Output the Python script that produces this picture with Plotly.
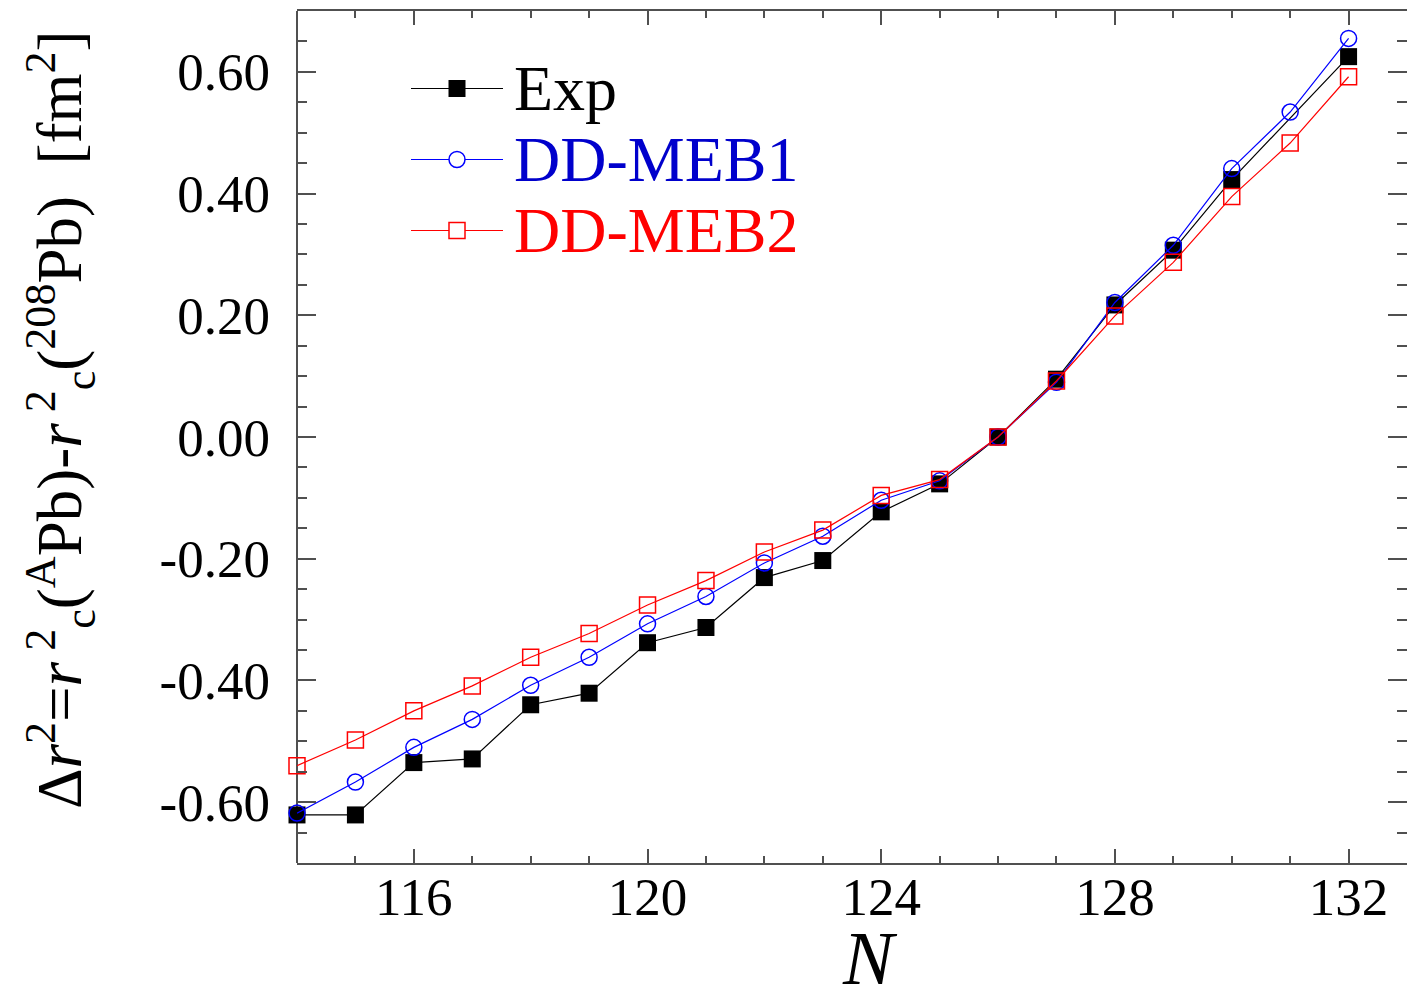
import plotly.graph_objects as go

# ---------------- data ----------------
N_exp = [114, 115, 116, 117, 118, 119, 120, 121, 122, 123, 124, 125, 126, 127, 128, 129, 130, 132]
exp_vals = [-0.621, -0.621, -0.535, -0.529, -0.440, -0.421, -0.338, -0.313, -0.231, -0.203,
            -0.123, -0.077, 0.000, 0.095, 0.217, 0.307, 0.423, 0.625]

N_th = [114, 115, 116, 117, 118, 119, 120, 121, 122, 123, 124, 125, 126, 127, 128, 129, 130, 131, 132]
meb1_vals = [-0.618, -0.567, -0.510, -0.464, -0.408, -0.362, -0.307, -0.262, -0.207, -0.163,
             -0.104, -0.072, 0.000, 0.090, 0.221, 0.315, 0.441, 0.534, 0.655]
meb2_vals = [-0.540, -0.498, -0.450, -0.409, -0.362, -0.323, -0.276, -0.236, -0.189, -0.153,
             -0.096, -0.070, 0.000, 0.092, 0.199, 0.287, 0.395, 0.483, 0.592]

series_names = ["Exp", "DD-MEB1", "DD-MEB2"]
y_tickvals = [-0.6, -0.4, -0.2, 0.0, 0.2, 0.4, 0.6]
y_ticktext = ["-0.60", "-0.40", "-0.20", "0.00", "0.20", "0.40", "0.60"]

# ---------------- styling ----------------
W, H = 1407, 992
ML, MR, MT, MB = 297, 0, 11, 129
FONT = "Liberation Serif"
BLACK, BLUE, RED = "#000000", "#0000FF", "#FF0000"
AXC = "#505050"

fig = go.Figure()
fig.add_trace(go.Scatter(x=N_exp, y=exp_vals, mode="lines+markers", name=series_names[0],
                         line=dict(color=BLACK, width=1.2),
                         marker=dict(symbol="square", size=17, color=BLACK, line=dict(width=0)),
                         cliponaxis=False, showlegend=False))
fig.add_trace(go.Scatter(x=N_th, y=meb1_vals, mode="lines+markers", name=series_names[1],
                         line=dict(color=BLUE, width=1.2),
                         marker=dict(symbol="circle-open", size=16, color=BLUE, line=dict(width=1.5)),
                         cliponaxis=False, showlegend=False))
fig.add_trace(go.Scatter(x=N_th, y=meb2_vals, mode="lines+markers", name=series_names[2],
                         line=dict(color=RED, width=1.2),
                         marker=dict(symbol="square-open", size=16, color=RED, line=dict(width=1.5)),
                         cliponaxis=False, showlegend=False))

pw = W - ML - MR
ph = H - MT - MB


def px_x(p):
    return (p - ML) / pw


def px_y(p):
    return (H - MB - p) / ph


shapes = []
annotations = []

# left spine only (the right frame edge lies outside the picture in the reference)
shapes.append(dict(type="line", xref="paper", yref="paper", x0=0, x1=0, y0=0, y1=1,
                   line=dict(color=AXC, width=2), layer="below"))

# ---------------- manual legend ----------------
leg_rows = [88.5, 159.5, 230.5]
leg_colors = [BLACK, "#0000CC", RED]
line_colors = [BLACK, BLUE, RED]
for i, (name, yy) in enumerate(zip(series_names, leg_rows)):
    shapes.append(dict(type="line", xref="paper", yref="paper",
                       x0=px_x(411), x1=px_x(503), y0=px_y(yy), y1=px_y(yy),
                       line=dict(color=line_colors[i], width=1.2)))
    common = dict(xref="paper", yref="paper", xsizemode="pixel", ysizemode="pixel",
                  xanchor=px_x(457), yanchor=px_y(yy))
    if i == 0:
        shapes.append(dict(type="rect", x0=-8.5, x1=8.5, y0=-8.5, y1=8.5,
                           fillcolor=BLACK, line=dict(width=0), **common))
    elif i == 1:
        shapes.append(dict(type="circle", x0=-8, x1=8, y0=-8, y1=8,
                           fillcolor="white", line=dict(color=BLUE, width=1.5), **common))
    else:
        shapes.append(dict(type="rect", x0=-8, x1=8, y0=-8, y1=8,
                           fillcolor="white", line=dict(color=RED, width=1.5), **common))
    annotations.append(dict(text=name, xref="paper", yref="paper", x=px_x(512), y=px_y(yy),
                            xanchor="left", yanchor="middle", showarrow=False,
                            font=dict(family=FONT, size=64, color=leg_colors[i])))

# axis titles
annotations.append(dict(text="<i>N</i>", xref="paper", yref="paper", x=px_x(870), y=px_y(958),
                        xanchor="center", yanchor="middle", showarrow=False,
                        font=dict(family=FONT, size=76, color=BLACK)))
ytitle = ("Δ<i>r</i><sup>2</sup>=<i>r</i><sup> 2</sup><sub>c</sub>(<sup>A</sup>Pb)-"
          "<i>r</i><sup> 2</sup><sub>c</sub>(<sup>208</sup>Pb)  [fm<sup>2</sup>]")
annotations.append(dict(text=ytitle, xref="paper", yref="paper", x=px_x(60), y=px_y(420),
                        xanchor="center", yanchor="middle", showarrow=False, textangle=-90,
                        font=dict(family=FONT, size=63, color=BLACK)))

fig.update_layout(
    width=W, height=H,
    margin=dict(l=ML, r=MR, t=MT, b=MB, pad=0),
    paper_bgcolor="white", plot_bgcolor="white",
    font=dict(family=FONT, color=BLACK),
    shapes=shapes, annotations=annotations,
    showlegend=False,
)
fig.update_xaxes(range=[114, 133], tickmode="linear", tick0=116, dtick=4,
                 ticks="inside", ticklen=14, tickwidth=1.5, tickcolor=AXC,
                 minor=dict(tickmode="linear", tick0=114, dtick=1, ticks="inside", ticklen=7,
                            tickwidth=1.5, tickcolor=AXC),
                 showline=True, linecolor=AXC, linewidth=2, mirror="ticks",
                 showgrid=False, zeroline=False,
                 tickfont=dict(family=FONT, size=53, color=BLACK), ticklabelstandoff=-14)
fig.update_yaxes(range=[-0.7, 0.7], tickmode="array", tickvals=y_tickvals, ticktext=y_ticktext,
                 ticks="inside", ticklen=19, tickwidth=1.5, tickcolor=AXC,
                 minor=dict(tickmode="linear", tick0=0, dtick=0.05, ticks="inside", ticklen=10,
                            tickwidth=1.5, tickcolor=AXC),
                 showline=False, mirror="ticks",
                 showgrid=False, zeroline=False,
                 tickfont=dict(family=FONT, size=53, color=BLACK), ticklabelstandoff=26)

fig.write_html("out.html")
